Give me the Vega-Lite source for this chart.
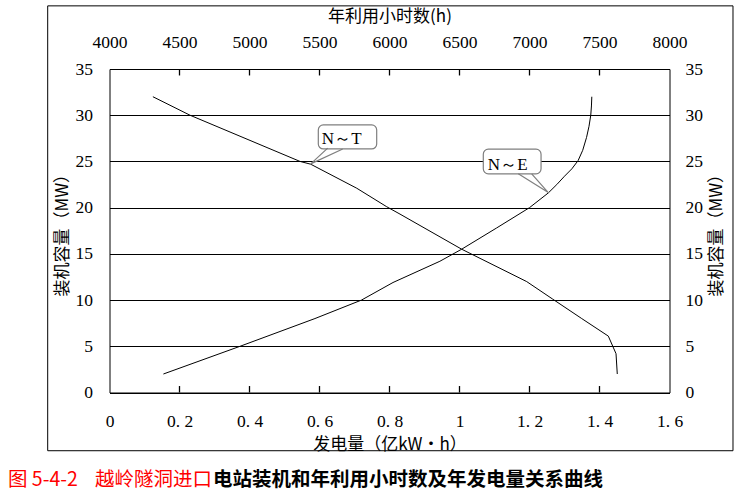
{
  "$schema": "https://vega.github.io/schema/vega-lite/v6.json",
  "width": 560,
  "height": 323.5,
  "autosize": "none",
  "padding": {"left": 109.5, "top": 69, "right": 68.5, "bottom": 106.5},
  "background": "white",
  "config": {
    "view": {"stroke": "black", "strokeWidth": 1},
    "axis": {
      "labelFont": "Liberation Serif", "labelFontSize": 17.5, "labelColor": "black", "labelFlush": false, "labelOverlap": false,
      "titleFont": "Noto Sans CJK SC", "titleFontSize": 17, "titleFontWeight": "normal", "titleColor": "black",
      "domain": false, "tickColor": "black", "tickWidth": 1, "tickOpacity": 1, "gridColor": "black", "gridOpacity": 1, "gridWidth": 1
    }
  },
  "datasets": {
    "ne": [
      {"E": 0.154, "N": 2.0}, {"E": 0.373, "N": 5.0}, {"E": 0.587, "N": 8.0}, {"E": 0.72, "N": 10.0},
      {"E": 0.81, "N": 11.9}, {"E": 0.944, "N": 14.2}, {"E": 1.006, "N": 15.5}, {"E": 1.106, "N": 17.8},
      {"E": 1.2, "N": 20.0}, {"E": 1.254, "N": 21.6}, {"E": 1.278, "N": 22.5}, {"E": 1.3, "N": 23.4},
      {"E": 1.321, "N": 24.2}, {"E": 1.339, "N": 25.1}, {"E": 1.352, "N": 26.2}, {"E": 1.363, "N": 27.6},
      {"E": 1.37, "N": 28.8}, {"E": 1.375, "N": 30.0}, {"E": 1.377, "N": 31.0}, {"E": 1.378, "N": 32.0}
    ],
    "nt": [
      {"T": 4310, "N": 32.0}, {"T": 4575, "N": 30.0}, {"T": 5361, "N": 25.0}, {"T": 5437, "N": 24.7},
      {"T": 5766, "N": 22.1}, {"T": 5980, "N": 20.1}, {"T": 6075, "N": 19.3}, {"T": 6516, "N": 15.5},
      {"T": 6980, "N": 12.0}, {"T": 7166, "N": 10.1}, {"T": 7373, "N": 8.0}, {"T": 7563, "N": 6.1},
      {"T": 7618, "N": 4.2}, {"T": 7627, "N": 2.0}
    ],
    "bottomTicks": [
      {"E": 0.2, "N0": 0, "N1": 0.7}, {"E": 0.4, "N0": 0, "N1": 0.7}, {"E": 0.6, "N0": 0, "N1": 0.7},
      {"E": 0.8, "N0": 0, "N1": 0.7}, {"E": 1.0, "N0": 0, "N1": 0.7}, {"E": 1.2, "N0": 0, "N1": 0.7},
      {"E": 1.4, "N0": 0, "N1": 0.7}
    ],
    "topTicks": [
      {"T": 4500, "N0": 35, "N1": 34.3}, {"T": 5000, "N0": 35, "N1": 34.3}, {"T": 5500, "N0": 35, "N1": 34.3},
      {"T": 6000, "N0": 35, "N1": 34.3}, {"T": 6500, "N0": 35, "N1": 34.3}, {"T": 7000, "N0": 35, "N1": 34.3},
      {"T": 7500, "N0": 35, "N1": 34.3}
    ],
    "boxes": [
      {"label": "N～T", "x1": 0.5966, "x2": 0.7634, "y1": 28.95, "y2": 26.35, "tx": 0.6634, "ty": 27.4},
      {"label": "N～E", "x1": 1.068, "x2": 1.233, "y1": 26.33, "y2": 23.66, "tx": 1.1377, "ty": 24.63}
    ],
    "pointers": [
      {"id": "T", "ord": 1, "E": 0.6234, "N": 26.44}, {"id": "T", "ord": 2, "E": 0.5749, "N": 24.74},
      {"id": "T", "ord": 3, "E": 0.6663, "N": 26.35},
      {"id": "E", "ord": 1, "E": 1.168, "N": 23.66}, {"id": "E", "ord": 2, "E": 1.2537, "N": 21.63},
      {"id": "E", "ord": 3, "E": 1.2063, "N": 23.66}
    ],
    "frame": [{"x1": -0.1766, "x2": 1.7814, "y1": 41.83, "y2": -6.3}],
    "capRed": [
      {"text": "图 5-4-2", "E": -0.29, "N": -9.47},
      {"text": "越岭隧洞进口", "E": -0.0414, "N": -9.47}
    ],
    "capBlack": [
      {"text": "电站装机和年利用小时数及年发电量关系曲线", "E": 0.2957, "N": -9.47}
    ]
  },
  "layer": [
    {
      "data": {"name": "ne"},
      "mark": {"type": "line", "color": "black", "strokeWidth": 1},
      "encoding": {
        "x": {"field": "E", "type": "quantitative",
          "scale": {"domain": [0, 1.6], "nice": false, "zero": false},
          "axis": {"orient": "bottom", "values": [0, 0.2, 0.4, 0.6, 0.8, 1, 1.2, 1.4, 1.6],
            "labelExpr": "datum.value == 0 ? '0' : datum.value == 1 ? '1' : replace(format(datum.value, '.1f'), '.', '. ')",
            "ticks": false, "labelPadding": 20, "title": "发电量（亿kW•h）", "titlePadding": 6, "grid": false}},
        "y": {"field": "N", "type": "quantitative",
          "scale": {"domain": [0, 35], "nice": false, "zero": false},
          "axis": {"orient": "left", "values": [0, 5, 10, 15, 20, 25, 30, 35], "grid": true, "ticks": false,
            "labelPadding": 17, "title": "装机容量（MW）", "titlePadding": 4}}
      }
    },
    {
      "data": {"name": "nt"},
      "mark": {"type": "line", "color": "black", "strokeWidth": 1},
      "encoding": {
        "x": {"field": "T", "type": "quantitative",
          "scale": {"domain": [4000, 8000], "nice": false, "zero": false},
          "axis": {"orient": "top", "values": [4000, 4500, 5000, 5500, 6000, 6500, 7000, 7500, 8000], "format": "d",
            "ticks": false, "labelPadding": 18, "title": "年利用小时数(h)", "titlePadding": 8, "grid": false}},
        "y": {"field": "N", "type": "quantitative",
          "scale": {"domain": [0, 35], "nice": false, "zero": false},
          "axis": {"orient": "right", "values": [0, 5, 10, 15, 20, 25, 30, 35], "grid": false, "ticks": false,
            "labelPadding": 15.5, "title": "装机容量（MW）", "titleAngle": 270, "titleBaseline": "top", "titlePadding": 6}}
      }
    },
    {
      "data": {"name": "bottomTicks"},
      "mark": {"type": "rule", "color": "black", "strokeWidth": 1.3},
      "encoding": {
        "x": {"field": "E", "type": "quantitative", "scale": {"domain": [0, 1.6], "nice": false, "zero": false}, "axis": null},
        "y": {"field": "N0", "type": "quantitative", "scale": {"domain": [0, 35], "nice": false, "zero": false}, "axis": null},
        "y2": {"field": "N1"}
      }
    },
    {
      "data": {"name": "topTicks"},
      "mark": {"type": "rule", "color": "black", "strokeWidth": 1.3},
      "encoding": {
        "x": {"field": "T", "type": "quantitative", "scale": {"domain": [4000, 8000], "nice": false, "zero": false}, "axis": null},
        "y": {"field": "N0", "type": "quantitative", "scale": {"domain": [0, 35], "nice": false, "zero": false}, "axis": null},
        "y2": {"field": "N1"}
      }
    },
    {
      "data": {"name": "frame"},
      "mark": {"type": "rect", "fill": "white", "fillOpacity": 0, "stroke": "black", "strokeWidth": 1},
      "encoding": {
        "x": {"field": "x1", "type": "quantitative", "scale": {"domain": [0, 1.6], "nice": false, "zero": false}, "axis": null},
        "x2": {"field": "x2"},
        "y": {"field": "y1", "type": "quantitative", "scale": {"domain": [0, 35], "nice": false, "zero": false}, "axis": null},
        "y2": {"field": "y2"}
      }
    },
    {
      "data": {"name": "boxes"},
      "mark": {"type": "rect", "fill": "white", "stroke": "#7f7f7f", "strokeWidth": 1.2, "cornerRadius": 5},
      "encoding": {
        "x": {"field": "x1", "type": "quantitative", "scale": {"domain": [0, 1.6], "nice": false, "zero": false}, "axis": null},
        "x2": {"field": "x2"},
        "y": {"field": "y1", "type": "quantitative", "scale": {"domain": [0, 35], "nice": false, "zero": false}, "axis": null},
        "y2": {"field": "y2"}
      }
    },
    {
      "data": {"name": "pointers"},
      "mark": {"type": "line", "color": "#7f7f7f", "strokeWidth": 1.2},
      "encoding": {
        "x": {"field": "E", "type": "quantitative", "scale": {"domain": [0, 1.6], "nice": false, "zero": false}, "axis": null},
        "y": {"field": "N", "type": "quantitative", "scale": {"domain": [0, 35], "nice": false, "zero": false}, "axis": null},
        "detail": {"field": "id"},
        "order": {"field": "ord"}
      }
    },
    {
      "data": {"name": "boxes"},
      "mark": {"type": "text", "font": "Liberation Serif", "fontSize": 17, "color": "black", "align": "center", "baseline": "middle"},
      "encoding": {
        "x": {"field": "tx", "type": "quantitative", "scale": {"domain": [0, 1.6], "nice": false, "zero": false}, "axis": null},
        "y": {"field": "ty", "type": "quantitative", "scale": {"domain": [0, 35], "nice": false, "zero": false}, "axis": null},
        "text": {"field": "label"}
      }
    },
    {
      "data": {"name": "capRed"},
      "mark": {"type": "text", "font": "Noto Sans CJK SC", "fontSize": 19.5, "color": "#ff0000", "align": "left", "baseline": "middle"},
      "encoding": {
        "x": {"field": "E", "type": "quantitative", "scale": {"domain": [0, 1.6], "nice": false, "zero": false}, "axis": null},
        "y": {"field": "N", "type": "quantitative", "scale": {"domain": [0, 35], "nice": false, "zero": false}, "axis": null},
        "text": {"field": "text"}
      }
    },
    {
      "data": {"name": "capBlack"},
      "mark": {"type": "text", "font": "Noto Sans CJK SC", "fontSize": 19.5, "fontWeight": "bold", "color": "black", "align": "left", "baseline": "middle"},
      "encoding": {
        "x": {"field": "E", "type": "quantitative", "scale": {"domain": [0, 1.6], "nice": false, "zero": false}, "axis": null},
        "y": {"field": "N", "type": "quantitative", "scale": {"domain": [0, 35], "nice": false, "zero": false}, "axis": null},
        "text": {"field": "text"}
      }
    }
  ],
  "resolve": {
    "scale": {"x": "independent", "y": "independent"},
    "axis": {"x": "independent", "y": "independent"}
  }
}
